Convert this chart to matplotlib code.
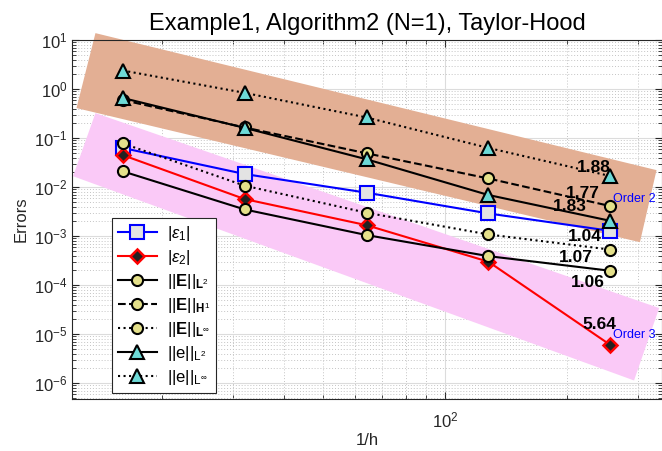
import matplotlib
matplotlib.use("Agg")
import matplotlib.pyplot as plt
from matplotlib.ticker import LogLocator, NullFormatter

plt.rcParams['font.family'] = ['Liberation Sans', 'DejaVu Sans']
plt.rcParams['mathtext.fontset'] = 'custom'
plt.rcParams['mathtext.rm'] = 'Liberation Sans'
plt.rcParams['mathtext.it'] = 'Liberation Sans:italic'
plt.rcParams['mathtext.bf'] = 'Liberation Sans:bold'
plt.rcParams['mathtext.fallback'] = 'stixsans'

# 1/h values
inv_h = [16, 32, 64, 128, 256]

# errors
eps1 = [0.063, 0.0185, 0.0077, 0.0029, 0.00128]
eps2 = [0.045, 0.0057, 0.00167, 0.0003, 6.0e-6]
E_L2 = [0.021, 0.0035, 0.00105, 0.00039, 0.000196]
E_H1 = [0.6, 0.165, 0.049, 0.015, 0.0041]
E_Linf = [0.078, 0.0107, 0.0030, 0.00108, 0.00053]
e_L2 = [0.66, 0.162, 0.037, 0.0069, 0.00205]
e_Linf = [2.4, 0.84, 0.264, 0.063, 0.0168]

labels = [r'$|\epsilon_1|$', r'$|\epsilon_2|$',
          r'$||\mathbf{E}||_{\mathbf{L}^2}$', r'$||\mathbf{E}||_{\mathbf{H}^1}$',
          r'$||\mathbf{E}||_{\mathbf{L}^\infty}$',
          r'$||\mathrm{e}||_{\mathrm{L}^2}$', r'$||\mathrm{e}||_{\mathrm{L}^\infty}$']

# convergence rates printed at the end of the curves
rate_text = ['1.88', '1.77', '1.83', '1.04', '1.07', '1.06', '5.64']

# corners of the order bands (1/h, error)
band2_x = [13.7, 333, 303, 12.3]
band2_y = [13.9, 0.0222, 7.5e-4, 0.41]
band3_x = [13.7, 338, 293, 12.06]
band3_y = [0.324, 3.4e-5, 1.13e-6, 0.0167]

fig = plt.figure(figsize=(6.62, 4.51), dpi=100)
ax = fig.add_axes([0.109, 0.115, 0.891, 0.796])
ax.set_xscale('log')
ax.set_yscale('log')

ax.fill(band2_x, band2_y, color='#E3AF94', lw=0, clip_on=False, zorder=1)
ax.fill(band3_x, band3_y, color='#FAC9F7', lw=0, clip_on=False, zorder=1)

circ = dict(marker='o', ms=8, mfc='#E4E08A', mec='black', mew=1.5, color='black', lw=1.5)
tri = dict(marker='^', ms=9.5, mfc='#6DD9D6', mec='black', mew=1.5, color='black', lw=1.5)

l1, = ax.plot(inv_h, eps1, marker='s', ms=10, mfc='#E3E3E3', mec='blue', mew=1.5,
              color='blue', lw=1.5, zorder=3)
l2, = ax.plot(inv_h, eps2, marker='D', ms=7.5, mfc='#222222', mec='red', mew=1.8,
              color='red', lw=1.5, zorder=3)
l3, = ax.plot(inv_h, E_L2, ls='-', zorder=3, **circ)
l4, = ax.plot(inv_h, E_H1, ls='--', zorder=3, **circ)
l5, = ax.plot(inv_h, E_Linf, ls=':', zorder=3, **circ)
l6, = ax.plot(inv_h, e_L2, ls='-', zorder=3, **tri)
l7, = ax.plot(inv_h, e_Linf, ls=':', zorder=3, **tri)

# rate labels, placed next to the last point of each curve
rate_anchor = [e_Linf[-1], E_H1[-1], e_L2[-1], eps1[-1], E_Linf[-1], E_L2[-1], eps2[-1]]
rate_offset = [(-12, 6.5), (-19.5, 9), (-29, 10), (-18.5, -4), (-25, -5.5), (-16.5, -8.5), (-8, 15)]
for txt, yv, off in zip(rate_text, rate_anchor, rate_offset):
    ax.annotate(txt, (inv_h[-1], yv), xytext=off, textcoords='offset points',
                ha='center', va='center', fontsize=12.5, fontweight='bold', zorder=4)

ax.annotate('Order 2', (inv_h[-1], E_H1[-1]), xytext=(2, 5), textcoords='offset points',
            ha='left', va='center', fontsize=9, color='blue', zorder=4)
ax.annotate('Order 3', (inv_h[-1], eps2[-1]), xytext=(2, 7), textcoords='offset points',
            ha='left', va='center', fontsize=9, color='blue', zorder=4)

ax.set_xlim(12, 343.5)
ax.set_ylim(4.7e-7, 10)

ax.yaxis.set_major_locator(LogLocator(base=10, numticks=20))
ax.yaxis.set_minor_locator(LogLocator(base=10, subs=range(2, 10), numticks=20))
ax.xaxis.set_minor_formatter(NullFormatter())
ax.yaxis.set_minor_formatter(NullFormatter())

ax.grid(True, which='major', color='#DCDCDC', lw=0.8, ls='-')
ax.grid(True, which='minor', color='#C4C4C4', lw=0.7, ls=(0, (1, 2)))
ax.set_axisbelow(True)

ax.tick_params(which='both', direction='in', top=True, right=True, colors='#262626',
               labelsize=12)
ax.tick_params(which='major', length=5)
ax.tick_params(which='minor', length=3)
ax.tick_params(axis='x', which='major', pad=8)
for s in ax.spines.values():
    s.set_color('#262626')
    s.set_linewidth(0.8)

ax.set_title('Example1, Algorithm2 (N=1), Taylor-Hood', fontsize=17, pad=7)
ax.set_xlabel('1/h', fontsize=12, color='#262626', labelpad=2)
ax.set_ylabel('Errors', fontsize=12, color='#262626')

leg = ax.legend([l1, l2, l3, l4, l5, l6, l7], labels, loc='lower left',
                bbox_to_anchor=(0.0675, 0.017), borderaxespad=0, fontsize=12,
                handlelength=2.35, labelspacing=0.3, borderpad=0.35,
                handletextpad=0.6, fancybox=False, framealpha=1,
                edgecolor='#262626')
leg.get_frame().set_linewidth(0.8)
leg.set_zorder(5)

fig.savefig('out.png', dpi=100)
